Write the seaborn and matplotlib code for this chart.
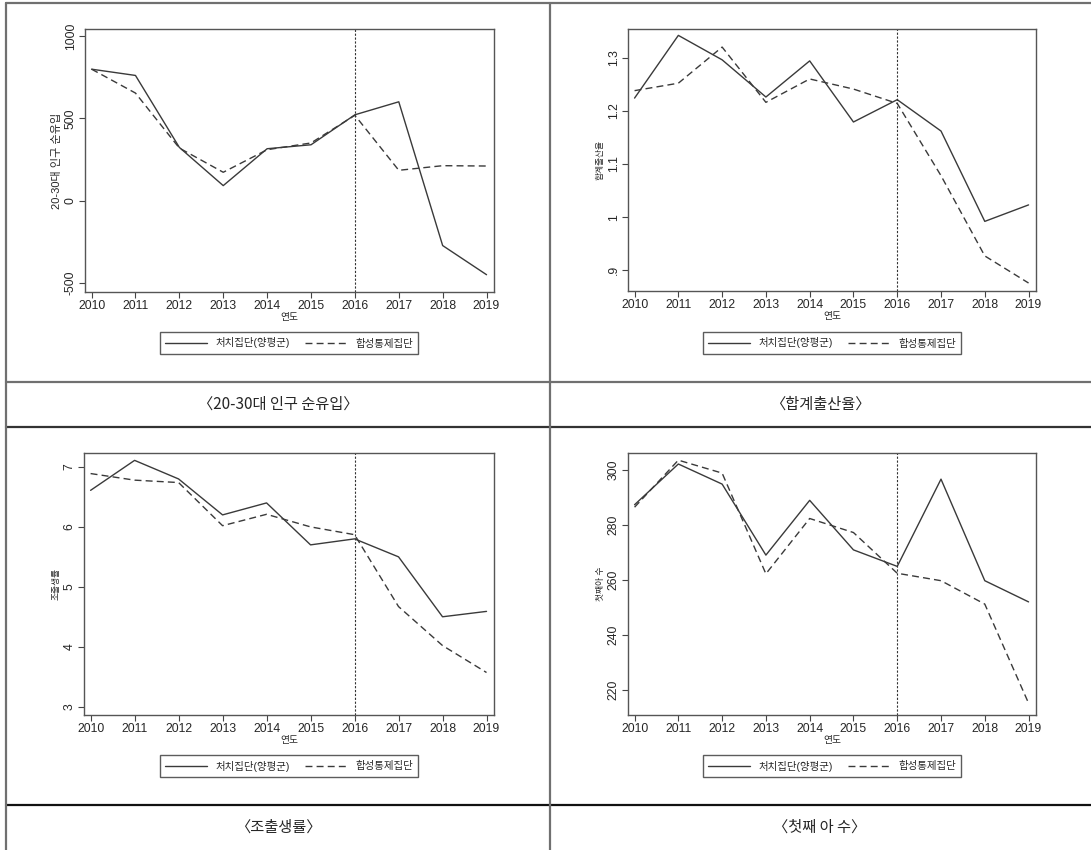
import pandas as pd
import matplotlib
matplotlib.use("Agg")
from matplotlib import pyplot as plt
from matplotlib.lines import Line2D
import seaborn as sns

years = list(range(2010, 2020))
groups = ["처치집단(양평군)", "합성통제집단"]

migr_treat = [798, 760, 323, 91, 315, 339, 521, 600, -273, -450]
migr_synth = [798, 653, 319, 172, 309, 350, 518, 184, 212, 210]
tfr_treat = [1.224, 1.342, 1.296, 1.226, 1.294, 1.179, 1.221, 1.162, 0.992, 1.023]
tfr_synth = [1.238, 1.252, 1.320, 1.216, 1.260, 1.241, 1.214, 1.078, 0.927, 0.876]
cbr_treat = [6.61, 7.11, 6.80, 6.20, 6.40, 5.70, 5.80, 5.50, 4.50, 4.59]
cbr_synth = [6.89, 6.78, 6.74, 6.02, 6.21, 6.00, 5.87, 4.67, 4.02, 3.57]
first_treat = [287.4, 302.2, 294.9, 269.1, 289.0, 271.0, 265.0, 296.7, 259.8, 252.1]
first_synth = [286.5, 303.6, 298.9, 262.3, 282.4, 277.3, 262.5, 259.8, 251.3, 215.3]

ylabels = ["20-30대 인구 순유입", "합계출산율", "조출생률", "첫째아 수"]
captions = ["〈20-30대 인구 순유입〉", "〈합계출산율〉", "〈조출생률〉", "〈첫째 아 수〉"]
yticks = [[-500, 0, 500, 1000], [0.9, 1.0, 1.1, 1.2, 1.3], [3, 4, 5, 6, 7], [220, 240, 260, 280, 300]]
yticklabels = [["-500", "0", "500", "1000"], [".9", "1", "1.1", "1.2", "1.3"],
               ["3", "4", "5", "6", "7"], ["220", "240", "260", "280", "300"]]
ylims = [(-555, 1042), (0.861, 1.354), (2.861, 7.233), (211.0, 306.2)]
treat_date = 2016

sns.set_style("white")
plt.rcParams["font.family"] = ["Liberation Sans", "Noto Sans CJK KR", "DejaVu Sans"]

W, H = 1091, 850
fig = plt.figure(figsize=(W / 100, H / 100), dpi=100)


def rect(l, t, r, b):
    return [l / W, 1 - b / H, (r - l) / W, (b - t) / H]


# table frame
line_col = "#707070"
for x0, y0, x1, y1, c in [(6, 3, 1091, 3, line_col), (6, 382, 1091, 382, line_col),
                          (6, 427, 1091, 427, "#333333"), (6, 805, 1091, 805, "#111111"),
                          (6, 3, 6, 850, line_col), (550, 3, 550, 850, line_col)]:
    fig.add_artist(Line2D([x0 / W, x1 / W], [1 - y0 / H, 1 - y1 / H],
                          transform=fig.transFigure, color=c, lw=1.6))

boxes = [(85, 29, 494, 292), (628, 29, 1036, 291), (84, 453, 494, 715), (628, 453, 1036, 715)]
legend_pos = [(289, 343), (832, 343), (289, 766), (832, 766)]
caption_pos = [(278, 404), (820, 404), (278, 827), (820, 827)]
series = [(migr_treat, migr_synth), (tfr_treat, tfr_synth),
          (cbr_treat, cbr_synth), (first_treat, first_synth)]

for i in range(4):
    treat, synth = series[i]
    df = pd.DataFrame({
        "연도": years * 2,
        "value": treat + synth,
        "group": [groups[0]] * len(years) + [groups[1]] * len(years),
    })
    ax = fig.add_axes(rect(*boxes[i]))
    sns.lineplot(data=df, x="연도", y="value", style="group", ax=ax,
                 color="#3a3a3a", linewidth=1.0,
                 dashes={groups[0]: "", groups[1]: (5, 3)})
    ax.axvline(treat_date, color="#333333", lw=0.8, ls=(0, (2, 1.5)))
    ax.set_xlim(2009.85, 2019.17)
    ax.set_ylim(*ylims[i])
    ax.set_xticks(years)
    ax.set_xticklabels([str(y) for y in years], fontsize=8.8)
    ax.set_yticks(yticks[i])
    ax.set_yticklabels(yticklabels[i], fontsize=8.8, rotation=90, va="center")
    ax.tick_params(axis="both", direction="out", length=4, width=0.8,
                   color="#444444", bottom=True, left=True, pad=2)
    ax.set_xlabel("연도", fontsize=7, labelpad=0)
    ax.set_ylabel(ylabels[i], fontsize=8 if i == 0 else 6.3, labelpad=2)
    for s in ax.spines.values():
        s.set_color("#555555")
        s.set_linewidth(1.0)

    handles, labels = ax.get_legend_handles_labels()
    keep = [(h, l) for h, l in zip(handles, labels) if l in groups]
    ax.legend([h for h, _ in keep], [l for _, l in keep], loc="center",
              bbox_to_anchor=(legend_pos[i][0] / W, 1 - legend_pos[i][1] / H),
              bbox_transform=fig.transFigure, ncol=2, fontsize=7.5,
              frameon=True, fancybox=False, edgecolor="#333333",
              handlelength=4.0, columnspacing=1.5, borderpad=0.5,
              handletextpad=0.8)
    ax.get_legend().get_frame().set_linewidth(1.0)

    fig.text(caption_pos[i][0] / W, 1 - caption_pos[i][1] / H, captions[i],
             ha="center", va="center", fontsize=11,
             family=["Noto Sans CJK KR", "DejaVu Sans"])

fig.savefig("out.png", dpi=100, facecolor="white")
